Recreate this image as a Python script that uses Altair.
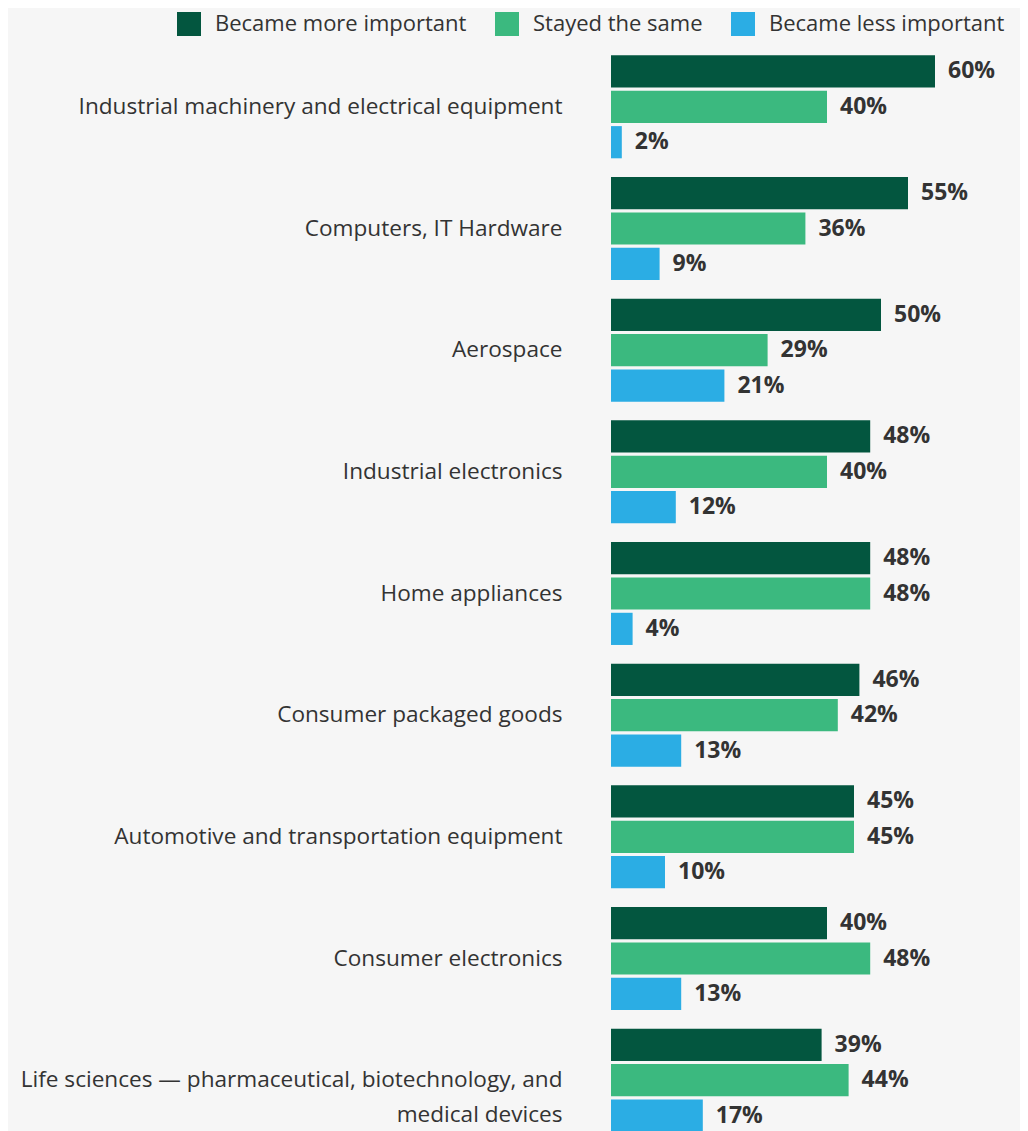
import altair as alt
import pandas as pd

categories = [
    "Industrial machinery and electrical equipment",
    "Computers, IT Hardware",
    "Aerospace",
    "Industrial electronics",
    "Home appliances",
    "Consumer packaged goods",
    "Automotive and transportation equipment",
    "Consumer electronics",
    "Life sciences — pharmaceutical, biotechnology, and medical devices",
]
more_important = [60, 55, 50, 48, 48, 46, 45, 40, 39]
stayed_same = [40, 36, 29, 40, 48, 42, 45, 48, 44]
less_important = [2, 9, 21, 12, 4, 13, 10, 13, 17]

series = ["Became more important", "Stayed the same", "Became less important"]
colors = ["#03563f", "#3bb97f", "#2badE4"]

rows = []
for s, vals in zip(series, [more_important, stayed_same, less_important]):
    for c, v in zip(categories, vals):
        rows.append({"category": c, "series": s, "value": v, "label": f"{v}%"})
df = pd.DataFrame(rows)

label_expr = (
    "datum.label == 'Life sciences — pharmaceutical, biotechnology, and medical devices'"
    " ? ['Life sciences — pharmaceutical, biotechnology, and', 'medical devices'] : datum.label"
)

FONT = "Open Sans"

base = alt.Chart(df).encode(
    y=alt.Y(
        "category:N",
        sort=categories,
        scale=alt.Scale(paddingInner=0.154, paddingOuter=0.077),
        axis=alt.Axis(
            title=None, domain=False, ticks=False, labelPadding=49,
            labelFontSize=22.6, labelColor="#333333", labelFont=FONT,
            labelLimit=700, labelLineHeight=35, labelExpr=label_expr,
        ),
    ),
    yOffset=alt.YOffset("series:N", sort=series, scale=alt.Scale(paddingInner=0.09)),
)

bars = base.mark_bar().encode(
    x=alt.X("value:Q", scale=alt.Scale(domain=[0, 75.74], nice=False), axis=None),
    color=alt.Color(
        "series:N", sort=series,
        scale=alt.Scale(domain=series, range=colors),
        legend=alt.Legend(
            title=None, orient="none", direction="horizontal",
            legendX=-434, legendY=-34, padding=0,
            symbolType="square", symbolSize=576, symbolOpacity=1,
            symbolStrokeWidth=0, labelFontSize=22, labelFont=FONT,
            labelColor="#333333", labelOffset=14, columnPadding=28,
            labelLimit=400,
        ),
    ),
)

text = base.mark_text(
    align="left", baseline="middle", dx=13, fontWeight="bold",
    fontSize=23, font=FONT, color="#333333",
).encode(x=alt.X("value:Q"), text="label:N")

chart = (bars + text).properties(
    width=409, height=1095,
    background="#f6f6f6",
    autosize=alt.AutoSizeParams(type="none"),
    padding={"left": 603, "top": 38, "right": 0, "bottom": 0},
).configure_view(stroke=None)

chart.save("out.html", embed_options={"renderer": "svg", "actions": False})
